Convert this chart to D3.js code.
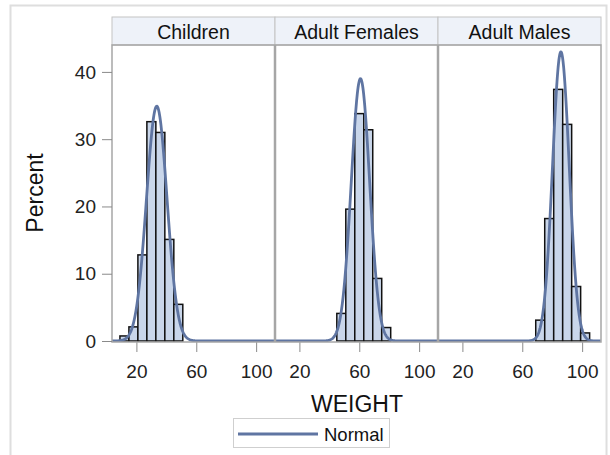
<!DOCTYPE html>
<html><head><meta charset="utf-8">
<script src="https://cdn.jsdelivr.net/npm/d3@7"></script>
<style>body{margin:0;background:#fff}svg{display:block;font-family:"Liberation Sans",Arial,sans-serif}</style>
</head><body>
<svg id="c" width="610" height="455"></svg>
<script>
// ---- data ----
const groups = ["Children", "Adult Females", "Adult Males"];
const binWidth = 6;
const childMid = [12, 18, 24, 30, 36, 42, 48];
const childPct = [0.75, 2.1, 12.8, 32.6, 31.0, 15.1, 5.45];
const femaleMid = [48, 54, 60, 66, 72, 78];
const femalePct = [4.1, 19.6, 33.8, 31.4, 9.3, 2.0];
const maleMid = [72, 78, 84, 90, 96, 102];
const malePct = [3.1, 18.2, 37.4, 32.2, 8.1, 1.2];
const normalMean = [33.6, 60.8, 85.8];
const normalSD = [6.86, 6.14, 5.57];
const xTicks = [20, 60, 100];
const yTicks = [0, 10, 20, 30, 40];
const xLabel = "WEIGHT", yLabel = "Percent", legendLabel = "Normal";

const mids = [childMid, femaleMid, maleMid];
const pcts = [childPct, femalePct, malePct];

// ---- layout ----
const svg = d3.select("#c");
const panelEdges = [112, 275, 438, 601];
const headTop = 17, plotTop = 45, plotBottom = 342;
const y = d3.scaleLinear().domain([0, 44]).range([341, plotTop]);
const curveColor = "#5f75a2", barFill = "#c9d6ea", frameGray = "#a6a6a6";

// outer frame
svg.append("rect").attr("x", 10.5).attr("y", 5.5).attr("width", 596).attr("height", 470)
  .attr("fill", "none").attr("stroke", "#dedede").attr("stroke-width", 2);

const defs = svg.append("defs");

groups.forEach((g, i) => {
  const x0 = panelEdges[i], x1 = panelEdges[i + 1];
  const x = d3.scaleLinear().domain([3.7, 112.6]).range([x0, x1]);
  defs.append("clipPath").attr("id", "clip" + i).append("rect")
    .attr("x", x0).attr("y", plotTop).attr("width", x1 - x0).attr("height", plotBottom - plotTop);

  // header
  svg.append("rect").attr("x", x0).attr("y", headTop).attr("width", x1 - x0).attr("height", plotTop - headTop)
    .attr("fill", "#eef2f9").attr("stroke", "#c4c4c4").attr("stroke-width", 1);
  svg.append("text").attr("x", (x0 + x1) / 2).attr("y", 38.5).attr("text-anchor", "middle")
    .attr("font-size", 19.5).attr("fill", "#111").text(g);

  const gp = svg.append("g").attr("clip-path", "url(#clip" + i + ")");
  // bars
  gp.selectAll("rect.bar").data(mids[i].map((m, k) => ({ m, p: pcts[i][k] })))
    .join("rect").attr("class", "bar")
    .attr("x", d => x(d.m - binWidth / 2)).attr("width", d => x(d.m + binWidth / 2) - x(d.m - binWidth / 2))
    .attr("y", d => y(d.p)).attr("height", d => y(0) - y(d.p))
    .attr("fill", barFill).attr("stroke", "#111").attr("stroke-width", 1.5);

  // normal curve
  const mu = normalMean[i], sd = normalSD[i];
  const xs = d3.range(3.7, 112.7, 0.25);
  const pts = xs.map(v => [v, binWidth * 100 / (sd * Math.sqrt(2 * Math.PI)) * Math.exp(-0.5 * ((v - mu) / sd) ** 2)]);
  gp.append("path").datum(pts)
    .attr("d", d3.line().x(d => x(d[0])).y(d => y(d[1])))
    .attr("fill", "none").attr("stroke", curveColor).attr("stroke-width", 2.8);

  // x axis
  const ax = svg.append("g").attr("transform", `translate(0,${plotBottom})`)
    .call(d3.axisBottom(x).tickValues(xTicks).tickSize(10).tickPadding(13).tickSizeOuter(0));
  ax.select(".domain").remove();
  ax.selectAll("line").attr("stroke", "#8a8a8a");
  ax.selectAll("text").attr("font-size", 19).attr("fill", "#222").attr("font-family", "Liberation Sans, Arial, sans-serif");
});

// panel borders
svg.append("rect").attr("x", panelEdges[0]).attr("y", plotTop).attr("width", panelEdges[3] - panelEdges[0])
  .attr("height", plotBottom - plotTop).attr("fill", "none").attr("stroke", frameGray).attr("stroke-width", 1.5);
[panelEdges[1], panelEdges[2]].forEach(px => {
  svg.append("line").attr("x1", px).attr("x2", px).attr("y1", plotTop).attr("y2", plotBottom)
    .attr("stroke", frameGray).attr("stroke-width", 2.5);
});

// y axis
const ay = svg.append("g").attr("transform", `translate(${panelEdges[0]},0)`)
  .call(d3.axisLeft(y).tickValues(yTicks).tickSize(10).tickPadding(6).tickSizeOuter(0));
ay.select(".domain").remove();
ay.selectAll("line").attr("stroke", "#8a8a8a");
ay.selectAll("text").attr("font-size", 19).attr("fill", "#222").attr("font-family", "Liberation Sans, Arial, sans-serif");

// axis labels
svg.append("text").attr("x", 357).attr("y", 412).attr("text-anchor", "middle")
  .attr("font-size", 23).attr("fill", "#111").text(xLabel);
svg.append("text").attr("transform", "translate(43,193) rotate(-90)").attr("text-anchor", "middle")
  .attr("font-size", 23).attr("fill", "#111").text(yLabel);

// legend
svg.append("rect").attr("x", 233.5).attr("y", 418.5).attr("width", 156).attr("height", 29)
  .attr("fill", "#fff").attr("stroke", "#cfcfcf").attr("stroke-width", 1);
svg.append("line").attr("x1", 238).attr("x2", 318).attr("y1", 434).attr("y2", 434)
  .attr("stroke", curveColor).attr("stroke-width", 2.8);
svg.append("text").attr("x", 324).attr("y", 440.5).attr("font-size", 18.5).attr("fill", "#111").text(legendLabel);
</script>
</body></html>
